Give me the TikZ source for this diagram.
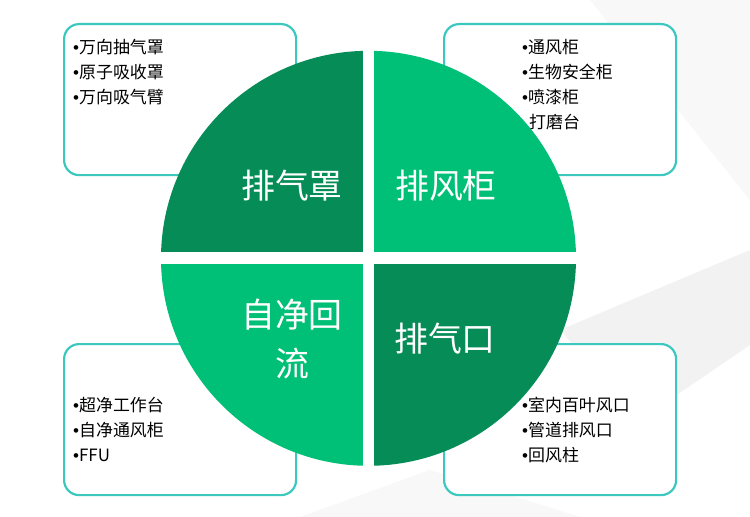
\documentclass[tikz,border=0pt]{standalone}
\usepackage{fontspec}
\setmainfont{Noto Sans CJK SC}
\newfontfamily\bulfont{Liberation Sans}
\newcommand{\bul}{{\bulfont •}}
\definecolor{darkq}{HTML}{058C57}
\definecolor{lightq}{HTML}{00BF76}
\definecolor{boxteal}{HTML}{3CC8BE}
\definecolor{bgA}{HTML}{F8F8F8}
\definecolor{bgB}{HTML}{F2F2F2}
\tikzset{
  infobox/.style={draw=boxteal, line width=2.2bp, rounded corners=15bp, fill=white,
    minimum width=232bp, minimum height=151bp, anchor=north west, inner sep=0pt},
  biglabel/.style={text=white, font=\fontsize{34}{50}\selectfont, align=center, inner sep=0pt},
  item/.style={text=black, font=\fontsize{17}{20}\selectfont, anchor=base west, inner sep=0pt}
}
\begin{document}
\begin{tikzpicture}[x=1bp,y=-1bp]
\useasboundingbox[fill=white] (0,0) rectangle (750,517);
% faint background facets
\fill[bgA] (590,0) -- (750,0) -- (750,200) -- cycle;
\fill[bgB] (560,330) -- (750,250) -- (750,345) -- (640,420) -- cycle;
\fill[bgA] (300,517) -- (430,470) -- (580,517) -- cycle;
% boxes
\node[infobox] (b1) at (63,23) {};
\node[infobox] (b2) at (443,23) {};
\node[infobox] (b3) at (63,343) {};
\node[infobox] (b4) at (443,343) {};
% quadrants
\coordinate (c) at (368.5,258.3);
\begin{scope}
\clip (c) circle [radius=207.5bp];
\fill[darkq] (150,40) rectangle (362.7,252.3);
\fill[lightq] (374.3,40) rectangle (590,252.3);
\fill[lightq] (150,264.3) rectangle (362.7,480);
\fill[darkq] (374.3,264.3) rectangle (590,480);
\end{scope}
% labels
\node[biglabel] (q1) at (292,186) {排气罩};
\node[biglabel] (q2) at (446,186) {排风柜};
\node[biglabel] (q3) at (292,339) {自净回\\流};
\node[biglabel] (q4) at (445,339) {排气口};
% lists
\node[item] (a1) at (73,54) {\bul{}万向抽气罩};
\node[item] (a2) at (73,79) {\bul{}原子吸收罩};
\node[item] (a3) at (73,104) {\bul{}万向吸气臂};
\node[item] (r1) at (522,54) {\bul{}通风柜};
\node[item] (r2) at (522,79) {\bul{}生物安全柜};
\node[item] (r3) at (522,104) {\bul{}喷漆柜};
\node[item] (r4) at (529,129) {打磨台};
\node[item] (s1) at (73,411) {\bul{}超净工作台};
\node[item] (s2) at (73,436) {\bul{}自净通风柜};
\node[item] (s3) at (73,461) {\bul{}FFU};
\node[item] (t1) at (522,411) {\bul{}室内百叶风口};
\node[item] (t2) at (522,436) {\bul{}管道排风口};
\node[item] (t3) at (522,461) {\bul{}回风柱};
\end{tikzpicture}
\end{document}
